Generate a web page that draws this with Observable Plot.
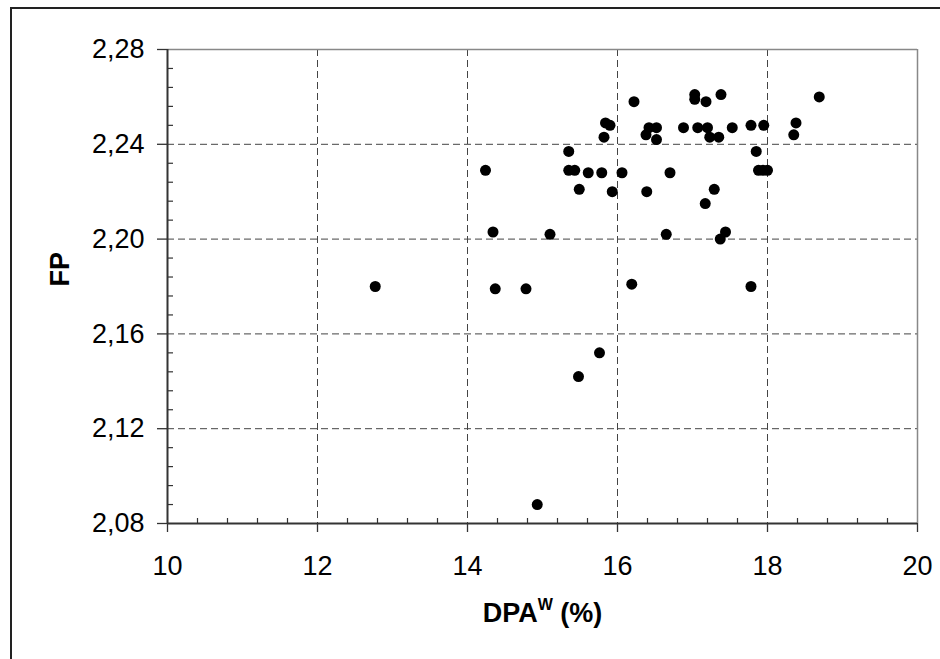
<!DOCTYPE html>
<html>
<head>
<meta charset="utf-8">
<script src="https://cdn.jsdelivr.net/npm/d3@7"></script>
<script src="https://cdn.jsdelivr.net/npm/@observablehq/plot@0.6"></script>
<style>
  html, body { margin: 0; padding: 0; background: white; }
</style>
</head>
<body>
<div id="chart"></div>
<script>
// DPA^W (%) values
const dpaW = [
  12.77, 14.24, 14.34, 14.37, 14.78, 14.93, 15.10, 15.35, 15.35, 15.43,
  15.49, 15.48, 15.61, 15.76, 15.79, 15.82, 15.84, 15.90, 15.93, 16.06,
  16.19, 16.22, 16.38, 16.39, 16.42, 16.52, 16.52, 16.65, 16.70, 16.88,
  17.03, 17.03, 17.07, 17.18, 17.17, 17.20, 17.23, 17.29, 17.35, 17.38,
  17.37, 17.44, 17.53, 17.78, 17.78, 17.85, 17.88, 17.94, 18.00, 17.95,
  18.35, 18.38, 18.69
];
// FP values
const fp = [
  2.180, 2.229, 2.203, 2.179, 2.179, 2.088, 2.202, 2.237, 2.229, 2.229,
  2.221, 2.142, 2.228, 2.152, 2.228, 2.243, 2.249, 2.248, 2.220, 2.228,
  2.181, 2.258, 2.244, 2.220, 2.247, 2.247, 2.242, 2.202, 2.228, 2.247,
  2.261, 2.259, 2.247, 2.258, 2.215, 2.247, 2.243, 2.221, 2.243, 2.261,
  2.200, 2.203, 2.247, 2.248, 2.180, 2.237, 2.229, 2.229, 2.229, 2.248,
  2.244, 2.249, 2.260
];
const xTicks = [10, 12, 14, 16, 18, 20];
const yTicks = [2.08, 2.12, 2.16, 2.20, 2.24, 2.28];
const xGrid = [12, 14, 16, 18];
const yGrid = [2.12, 2.16, 2.20, 2.24];
const xTitle = "DPAW (%)";
const yTitle = "FP";

const xMinor = d3.range(0, 26).map(i => 10 + i * 0.4).filter(v => Math.abs(v / 2 - Math.round(v / 2)) > 1e-6);
const yMinor = d3.range(0, 26).map(i => 2.08 + i * 0.008).filter(v => Math.abs(v / 0.04 - Math.round(v / 0.04)) > 1e-6);

const points = dpaW.map((x, i) => ({x, y: fp[i]}));
const fmt = d => d.toFixed(2).replace(".", ",");

const W = 940, H = 659, ML = 167, MR = 23, MT = 49, MB = 136;
const PW = W - ML - MR, PH = H - MT - MB;

const svg = Plot.plot({
  width: W, height: H,
  marginLeft: ML, marginRight: MR, marginTop: MT, marginBottom: MB,
  x: {domain: [10, 20]},
  y: {domain: [2.08, 2.28]},
  style: {fontFamily: "'Liberation Sans', Arial, sans-serif", fontSize: "27px", background: "white", color: "black", overflow: "visible"},
  marks: [
    Plot.gridX(xGrid, {stroke: "#444", strokeOpacity: 1, strokeWidth: 1, strokeDasharray: "7,4"}),
    Plot.gridY(yGrid, {stroke: "#444", strokeOpacity: 1, strokeWidth: 1, strokeDasharray: "7,4"}),
    Plot.ruleY([2.28], {stroke: "#888", strokeWidth: 1.5}),
    Plot.ruleX([20], {stroke: "#888", strokeWidth: 1.5}),
    Plot.tickX(xMinor, {x: d => d, insetTop: PH - 5, stroke: "#333", strokeWidth: 1.2}),
    Plot.tickY(yMinor, {y: d => d, insetRight: PW - 6, stroke: "#333", strokeWidth: 1.2}),
    Plot.ruleX([10], {stroke: "#333", strokeWidth: 2}),
    Plot.ruleY([2.08], {stroke: "#333", strokeWidth: 2}),
    Plot.axisX({ticks: xTicks, tickSize: 9, tickPadding: 23, label: null, stroke: "#333", strokeWidth: 1.3, fontSize: 27}),
    Plot.axisY({ticks: yTicks, tickSize: 10, tickPadding: 13, tickFormat: fmt, label: null, stroke: "#333", strokeWidth: 1.3, fontSize: 27}),
    Plot.dot(points, {x: "x", y: "y", r: 5.5, fill: "black", stroke: "none"}),
    Plot.text([yTitle], {text: d => d, frameAnchor: "left", rotate: -90, dx: -107, fontWeight: "bold", fontSize: 27, fill: "black"}),
    Plot.text([xTitle], {text: d => d, frameAnchor: "bottom", dy: 98, fontWeight: "bold", fontSize: 27, fill: "black"})
  ]
});

// superscript W in the x-axis title
const t = Array.from(svg.querySelectorAll("text")).find(e => e.textContent === xTitle);
if (t) {
  while (t.firstChild) t.removeChild(t.firstChild);
  const ns = "http://www.w3.org/2000/svg";
  const a = document.createElementNS(ns, "tspan"); a.textContent = "DPA";
  const b = document.createElementNS(ns, "tspan"); b.textContent = "W";
  b.setAttribute("font-size", "16"); b.setAttribute("dy", "-12");
  const c = document.createElementNS(ns, "tspan"); c.textContent = " (%)";
  c.setAttribute("dy", "12");
  t.appendChild(a); t.appendChild(b); t.appendChild(c);
}

// outer chart-area border
d3.select(svg).append("path")
  .attr("d", `M11,${H}V8H${W}`)
  .attr("fill", "none").attr("stroke", "#222").attr("stroke-width", 2);

document.getElementById("chart").appendChild(svg);
</script>
</body>
</html>
